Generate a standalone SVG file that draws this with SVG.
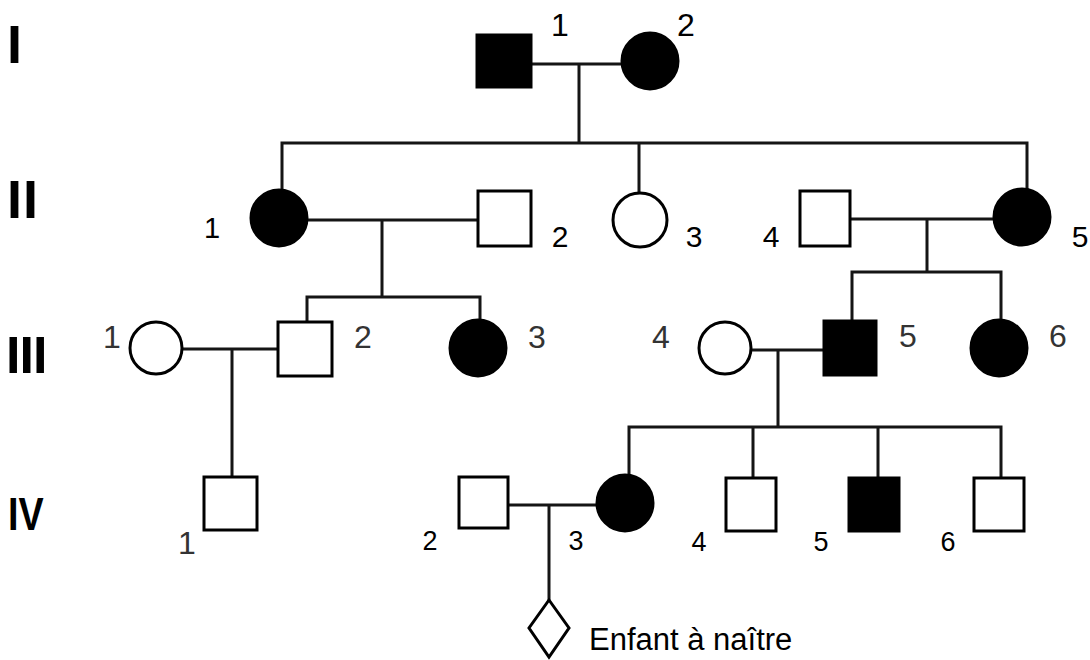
<svg xmlns="http://www.w3.org/2000/svg" width="1090" height="660" viewBox="0 0 1090 660">
<style>
.ln{stroke:#151515;stroke-width:3;fill:none;stroke-linecap:square}
.sq{stroke:#000;stroke-width:3;fill:#fff}
.af{fill:#000;stroke:#000;stroke-width:3}
.rom{font-family:"Liberation Sans",Arial,sans-serif;font-weight:bold;fill:#000}
.lb{font-family:"Liberation Sans",Arial,sans-serif;fill:#000;text-anchor:middle}
.lg{font-family:"Liberation Sans",Arial,sans-serif;fill:#333;text-anchor:middle}
</style>
<rect width="1090" height="660" fill="#fff"/>
<g id="generations">
<text class="rom" x="7" y="63" font-size="54">I</text>
<text class="rom" x="7" y="218" font-size="54" letter-spacing="1">II</text>
<text class="rom" x="6" y="373" font-size="52" letter-spacing="-1">III</text>
<text class="rom" x="8" y="530" font-size="46" transform="translate(8 0) scale(0.82 1) translate(-8 0)">IV</text>
</g>
<g id="connectors">
<path class="ln" d="M532 64H621M579 64V143M282 143H1027M282 143V190M639 143V192M1027 143V188"/>
<path class="ln" d="M308 220H477M382 220V297M307 297H480M307 297V321M480 297V320"/>
<path class="ln" d="M850 219H993M927 219V272M852 272H1001M852 272V320M1001 272V320"/>
<path class="ln" d="M183 349H277M232 349V476"/>
<path class="ln" d="M752 350H823M778 350V427M629 427H1001M629 427V474M753 427V478M878 427V478M1001 427V478"/>
<path class="ln" d="M508 505H596M549 505V599"/>
</g>
<g id="I-1"><rect class="af" x="477" y="35" width="54" height="52"/><text class="lb" x="560" y="36" font-size="32">1</text></g>
<g id="I-2"><circle class="af" cx="650" cy="61" r="28"/><text class="lb" x="686" y="36" font-size="32">2</text></g>
<g id="II-1"><circle class="af" cx="279" cy="218" r="28"/><text class="lb" x="212" y="238" font-size="29">1</text></g>
<g id="II-2"><rect class="sq" x="478" y="191" width="53" height="55"/><text class="lb" x="560" y="247" font-size="30">2</text></g>
<g id="II-3"><circle class="sq" cx="640" cy="220" r="27"/><text class="lb" x="694" y="247" font-size="30">3</text></g>
<g id="II-4"><rect class="sq" x="800" y="191" width="50" height="55"/><text class="lb" x="771" y="247" font-size="30">4</text></g>
<g id="II-5"><circle class="af" cx="1022" cy="217" r="28"/><text class="lb" x="1080" y="247" font-size="30">5</text></g>
<g id="III-1"><circle class="sq" cx="156" cy="348" r="26"/><text class="lg" x="112" y="348" font-size="32">1</text></g>
<g id="III-2"><rect class="sq" x="278" y="322" width="54" height="54"/><text class="lg" x="363" y="348" font-size="32">2</text></g>
<g id="III-3"><circle class="af" cx="478" cy="348" r="28"/><text class="lg" x="537" y="348" font-size="32">3</text></g>
<g id="III-4"><circle class="sq" cx="725" cy="348" r="26"/><text class="lg" x="661" y="348" font-size="32">4</text></g>
<g id="III-5"><rect class="af" x="824" y="321" width="52" height="54"/><text class="lg" x="908" y="347" font-size="32">5</text></g>
<g id="III-6"><circle class="af" cx="999" cy="348" r="28"/><text class="lg" x="1058" y="347" font-size="32">6</text></g>
<g id="IV-1"><rect class="sq" x="204" y="477" width="53" height="53"/><text class="lg" x="187" y="554" font-size="32">1</text></g>
<g id="IV-2"><rect class="sq" x="459" y="477" width="49" height="51"/><text class="lb" x="430" y="550" font-size="27">2</text></g>
<g id="IV-3"><circle class="af" cx="625" cy="503" r="28"/><text class="lb" x="576" y="550" font-size="27">3</text></g>
<g id="IV-4"><rect class="sq" x="726" y="478" width="50" height="53"/><text class="lb" x="699" y="551" font-size="27">4</text></g>
<g id="IV-5"><rect class="af" x="849" y="478" width="50" height="53"/><text class="lb" x="821" y="551" font-size="27">5</text></g>
<g id="IV-6"><rect class="sq" x="974" y="478" width="50" height="53"/><text class="lb" x="948" y="551" font-size="27">6</text></g>
<g id="unborn"><polygon class="sq" points="549,600 569,628 549,657 529,628"/><text font-family="Liberation Sans, Arial, sans-serif" font-size="31" x="589" y="650" fill="#000">Enfant à naître</text></g>
</svg>
